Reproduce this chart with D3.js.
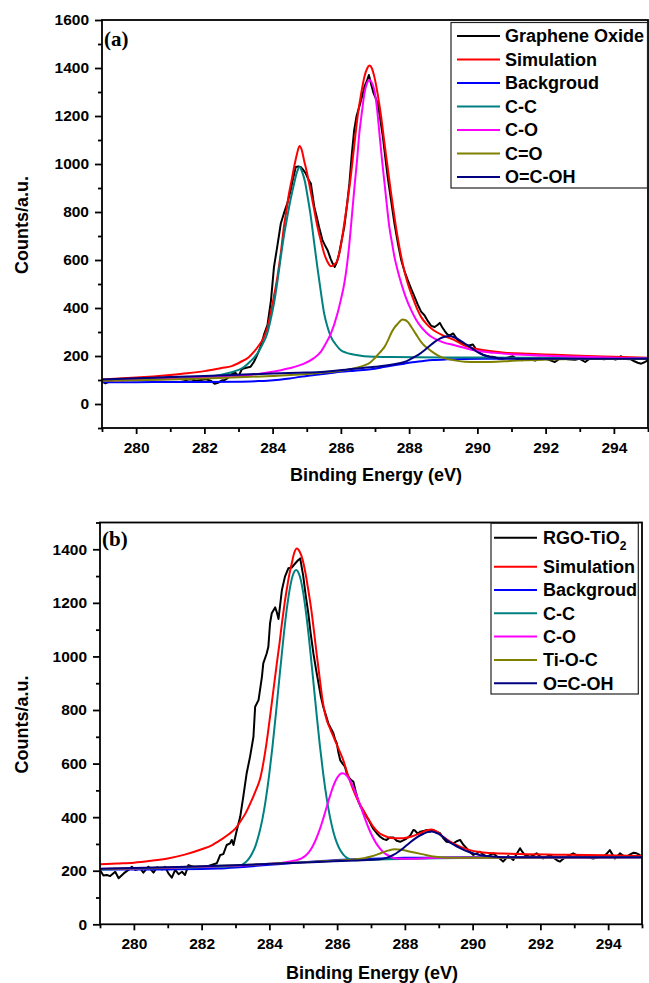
<!DOCTYPE html>
<html>
<head>
<meta charset="utf-8">
<script src="https://cdn.jsdelivr.net/npm/d3@7"></script>
<style>
  html, body { margin: 0; padding: 0; background: #fff; }
  svg { display: block; }
  text { font-family: "Liberation Sans", Arial, sans-serif; font-weight: bold; fill: #000; }
</style>
</head>
<body>
<svg id="chart" width="649" height="983"></svg>
<script>
// ---- shared axis values ----
const energyDomain = [279, 295];
const energyMajor = [280, 282, 284, 286, 288, 290, 292, 294];
const energyMinor = [279, 281, 283, 285, 287, 289, 291, 293, 295];

const goCountDomain = [-100, 1600];
const goCountMajor = [0, 200, 400, 600, 800, 1000, 1200, 1400, 1600];
const goCountMinor = [-100, 100, 300, 500, 700, 900, 1100, 1300, 1500];

const rgoCountDomain = [0, 1500];
const rgoCountMajor = [0, 200, 400, 600, 800, 1000, 1200, 1400];
const rgoCountMinor = [100, 300, 500, 700, 900, 1100, 1300, 1500];

const seriesColors = ["#000000", "#ff0000", "#0000ff", "#008080", "#ff00ff", "#808000", "#000080"];
const goNames = ["Graphene Oxide", "Simulation", "Backgroud", "C-C", "C-O", "C=O", "O=C-OH"];
const rgoNames = ["RGO-TiO2", "Simulation", "Backgroud", "C-C", "C-O", "Ti-O-C", "O=C-OH"];

// ---- (a) Graphene oxide C1s: [binding energy eV, counts] ----
const goSpectrum = [
  [279.0,96],[279.1,86],[279.2,92],[279.35,100],[279.5,104],[279.6,98],[279.8,106],[279.95,100],
  [280.1,104],[280.25,112],[280.4,106],[280.55,108],[280.7,103],[280.85,110],[281.0,108],[281.15,112],
  [281.3,104],[281.45,100],[281.6,103],[281.75,97],[281.9,100],[282.05,103],[282.2,96],[282.3,84],
  [282.4,88],[282.5,98],[282.6,100],[282.7,110],[282.8,124],[282.9,132],[283.0,115],[283.1,146],
  [283.2,150],[283.35,155],[283.45,175],[283.55,205],[283.65,240],[283.75,290],[283.85,330],[283.95,430],
  [284.04,571],[284.14,660],[284.24,752],[284.33,794],[284.43,836],[284.53,891],[284.6,940],[284.68,988],
  [284.75,990],[284.82,988],[284.9,975],[284.97,961],[285.05,935],[285.12,919],[285.17,870],[285.22,822],
  [285.3,775],[285.36,738],[285.46,683],[285.52,665],[285.61,641],[285.7,605],[285.76,585],[285.82,571],
  [285.88,590],[285.95,627],[286.02,680],[286.1,738],[286.18,830],[286.25,919],[286.32,1040],[286.39,1141],
  [286.46,1200],[286.54,1239],[286.62,1280],[286.69,1322],[286.76,1345],[286.82,1371],[286.88,1336],[286.96,1294],
  [287.02,1275],[287.08,1253],[287.15,1190],[287.23,1114],[287.3,1030],[287.37,947],[287.47,850],[287.57,752],
  [287.67,670],[287.77,599],[287.86,555],[287.96,516],[288.06,480],[288.16,446],[288.25,415],[288.35,385],
  [288.45,370],[288.55,345],[288.65,325],[288.75,321],[288.84,330],[288.9,338],[288.97,320],[289.04,305],
  [289.12,290],[289.19,286],[289.29,294],[289.36,280],[289.43,266],[289.53,255],[289.63,245],[289.75,244],
  [289.87,248],[289.97,226],[290.08,212],[290.2,203],[290.35,198],[290.5,196],[290.6,190],[290.75,189],
  [290.9,194],[291.04,199],[291.15,188],[291.3,182],[291.45,186],[291.55,185],[291.7,181],[291.82,193],
  [291.95,188],[292.1,184],[292.27,175],[292.4,188],[292.5,196],[292.65,186],[292.86,184],[293.0,188],
  [293.16,175],[293.3,190],[293.5,192],[293.7,186],[293.9,190],[294.05,185],[294.2,199],[294.35,188],
  [294.5,186],[294.6,178],[294.7,172],[294.8,168],[294.9,174],[295.0,182]
];
const goSimulation = [
  [279,103],[279.5,106],[280,110],[280.5,115],[281,121],[281.5,128],[282,137],[282.5,150],[282.8,158],
  [283.06,175],[283.3,195],[283.45,217],[283.6,245],[283.75,280],[283.85,320],[283.94,377],[284.04,450],
  [284.14,530],[284.24,630],[284.33,738],[284.41,810],[284.48,877],[284.56,935],[284.63,988],[284.71,1040],
  [284.79,1075],[284.86,1055],[284.92,1016],[285.0,968],[285.07,919],[285.15,860],[285.22,808],[285.29,755],
  [285.36,710],[285.44,665],[285.51,627],[285.6,595],[285.71,574],[285.8,580],[285.9,599],[286.0,660],
  [286.1,752],[286.2,850],[286.29,947],[286.39,1075],[286.49,1197],[286.59,1290],[286.69,1364],[286.77,1398],
  [286.84,1410],[286.91,1398],[286.98,1364],[287.08,1290],[287.18,1197],[287.27,1095],[287.37,988],[287.47,880],
  [287.57,780],[287.67,690],[287.77,613],[287.86,555],[287.96,502],[288.1,445],[288.25,391],[288.35,363],
  [288.5,335],[288.65,315],[288.8,300],[289.0,285],[289.33,266],[289.6,245],[289.9,231],[290.3,222],
  [290.8,214],[291.5,209],[292.3,205],[293,201],[294,197],[295,193]
];
const goBackground = [
  [279,91],[280,91],[281,92],[282,92],[283,93],[283.5,95],[283.85,97],[284.2,101],[284.5,106],[284.8,113],
  [285.1,119],[285.41,124],[285.7,129],[286.0,134],[286.4,139],[286.88,145],[287.3,155],[287.6,162],
  [287.86,168],[288.1,174],[288.35,178],[288.7,183],[289.1,186],[289.6,188],[290.5,189],[292,190],[295,190]
];
const goCC = [
  [279,100],[280,102],[281,106],[282,112],[282.5,122],[282.8,132],[283.0,142],[283.16,154],[283.35,178],
  [283.55,210],[283.7,248],[283.84,293],[283.94,350],[284.04,419],[284.14,510],[284.24,613],[284.33,700],
  [284.43,780],[284.53,855],[284.63,919],[284.71,965],[284.79,988],[284.87,965],[284.95,925],[285.03,860],
  [285.12,780],[285.21,680],[285.31,571],[285.41,470],[285.51,377],[285.61,320],[285.71,280],[285.85,248],
  [286.0,224],[286.15,214],[286.3,208],[286.5,203],[286.69,199],[287,197],[287.5,196],[289,194],[291,193],
  [293,192],[295,191]
];
const goCO = [
  [279,98],[280,100],[281,104],[282,109],[282.5,113],[283,117],[283.26,120],[283.8,130],[284.24,141],
  [284.6,153],[284.92,168],[285.2,190],[285.41,217],[285.55,250],[285.71,294],[285.9,377],[286.0,435],
  [286.1,502],[286.18,580],[286.25,669],[286.32,780],[286.39,891],[286.47,1010],[286.54,1127],[286.62,1220],
  [286.69,1294],[286.76,1335],[286.84,1350],[286.91,1338],[286.98,1308],[287.06,1230],[287.13,1127],
  [287.2,1025],[287.28,919],[287.35,825],[287.42,738],[287.5,670],[287.57,613],[287.67,553],[287.77,502],
  [287.9,445],[288.06,391],[288.2,352],[288.35,321],[288.5,298],[288.65,280],[289.0,257],[289.33,245],
  [289.9,224],[290.5,213],[291.2,206],[292,201],[293,197],[294,193],[295,190]
];
const goCdO = [
  [279,97],[280,99],[281,102],[282,106],[283,111],[284,117],[285,125],[285.5,131],[286.0,139],[286.2,143],
  [286.5,152],[286.69,161],[286.85,172],[286.98,189],[287.1,208],[287.2,224],[287.28,238],[287.38,265],
  [287.47,294],[287.57,318],[287.67,335],[287.74,346],[287.81,352],[287.88,350],[287.96,342],[288.06,322],
  [288.16,300],[288.25,280],[288.35,259],[288.45,243],[288.55,231],[288.7,215],[288.84,203],[289.0,192],
  [289.33,182],[289.63,176],[290,175],[290.3,175],[290.8,178],[291.3,182],[292,185],[293,187],[295,188]
];
const goCOOH = [
  [279,102],[280,107],[281,112],[282,117],[283,122],[284,127],[285,131],[285.41,133],[286.39,147],[287,155],
  [287.37,161],[287.6,167],[287.86,175],[288.0,184],[288.16,196],[288.3,208],[288.45,224],[288.6,242],
  [288.75,259],[288.9,272],[289.04,280],[289.19,283],[289.33,277],[289.48,266],[289.63,252],[289.78,238],
  [289.92,224],[290.06,212],[290.2,203],[290.35,197],[290.5,193],[290.8,190],[291.5,189],[293,189],[295,189]
];

// ---- (b) RGO-TiO2 C1s: [binding energy eV, counts] ----
const rgoSpectrum = [
  [279.0,203],[279.1,182],[279.2,184],[279.3,180],[279.45,196],[279.55,172],[279.7,190],[279.84,203],
  [279.94,215],[280.04,203],[280.19,209],[280.28,193],[280.43,215],[280.58,193],[280.68,213],[280.83,205],
  [280.92,215],[281.02,190],[281.12,174],[281.22,203],[281.32,187],[281.42,196],[281.51,184],[281.61,221],
  [281.76,215],[281.96,213],[282.2,218],[282.45,228],[282.55,259],[282.64,262],[282.74,296],[282.84,302],
  [282.89,315],[282.94,296],[283.04,352],[283.14,402],[283.23,477],[283.33,564],[283.43,626],[283.53,700],
  [283.58,812],[283.68,837],[283.78,924],[283.82,974],[283.92,1011],[283.97,1036],[284.02,1124],[284.07,1161],
  [284.17,1183],[284.22,1165],[284.27,1140],[284.37,1248],[284.46,1298],[284.56,1329],[284.66,1332],
  [284.76,1347],[284.84,1358],[284.91,1366],[285.0,1300],[285.07,1230],[285.15,1161],[285.22,1085],
  [285.3,1011],[285.38,950],[285.45,900],[285.52,850],[285.59,812],[285.67,780],[285.74,750],[285.82,730],
  [285.89,713],[285.94,690],[285.99,676],[286.04,640],[286.09,613],[286.16,600],[286.23,589],[286.28,565],
  [286.33,551],[286.4,540],[286.48,532],[286.55,495],[286.63,458],[286.7,438],[286.77,425],[286.85,405],
  [286.92,392],[287.0,372],[287.07,356],[287.17,340],[287.27,327],[287.37,318],[287.46,315],[287.56,324],
  [287.66,324],[287.76,312],[287.86,308],[287.95,313],[288.05,320],[288.15,330],[288.25,352],[288.3,350],
  [288.38,338],[288.45,346],[288.55,348],[288.64,352],[288.74,346],[288.84,352],[288.94,345],[289.04,340],
  [289.13,322],[289.23,308],[289.33,306],[289.43,302],[289.53,310],[289.63,315],[289.72,298],[289.82,284],
  [289.92,270],[290.02,259],[290.12,265],[290.22,271],[290.32,260],[290.41,252],[290.51,258],[290.61,265],
  [290.7,255],[290.8,246],[290.9,234],[291.05,255],[291.2,240],[291.3,262],[291.4,284],[291.47,270],
  [291.54,259],[291.69,252],[291.8,258],[291.89,265],[291.98,255],[292.08,246],[292.18,252],[292.28,259],
  [292.4,248],[292.5,238],[292.58,234],[292.68,245],[292.77,252],[292.87,258],[292.97,265],[293.1,256],
  [293.26,252],[293.4,250],[293.56,246],[293.7,250],[293.85,252],[293.95,262],[294.05,277],[294.12,262],
  [294.2,246],[294.28,255],[294.35,265],[294.45,256],[294.54,252],[294.64,260],[294.74,267],[294.82,266],
  [294.89,262],[295.0,252]
];
const rgoSimulation = [
  [279,224],[279.5,227],[280,230],[280.5,237],[281,246],[281.5,260],[282,280],[282.3,295],[282.55,314],
  [282.8,336],[283.0,358],[283.15,385],[283.3,415],[283.45,455],[283.6,500],[283.73,545],[283.82,601],
  [283.92,680],[284.02,775],[284.12,875],[284.22,974],[284.3,1050],[284.37,1123],[284.44,1190],[284.51,1248],
  [284.58,1300],[284.66,1347],[284.73,1385],[284.81,1403],[284.9,1390],[284.98,1362],[285.06,1315],
  [285.14,1255],[285.25,1163],[285.33,1080],[285.4,1005],[285.48,925],[285.55,855],[285.62,800],[285.7,760],
  [285.8,728],[285.9,698],[286.0,668],[286.1,638],[286.18,613],[286.3,565],[286.4,528],[286.48,501],
  [286.6,466],[286.7,442],[286.77,427],[286.9,398],[287.07,364],[287.25,340],[287.46,327],[287.7,321],
  [287.95,321],[288.2,328],[288.45,340],[288.65,351],[288.79,354],[288.95,345],[289.13,327],[289.35,308],
  [289.63,290],[289.92,277],[290.2,270],[290.41,267],[290.9,264],[291.4,262],[292.4,260],[293.36,259],
  [294.2,257],[295,255]
];
const rgoBackground = [
  [279,205],[280,205],[281,205],[282,206],[282.5,208],[283,212],[283.5,217],[284,222],[284.5,227],[285,232],
  [285.5,236],[286,240],[286.5,243],[287,245],[288,248],[289,249],[290,250],[292,250],[295,250]
];
const rgoCC = [
  [279,205],[281,210],[282,213],[282.79,216],[283.09,218],[283.29,231],[283.39,244],[283.49,264],[283.59,293],
  [283.69,335],[283.79,390],[283.89,463],[283.99,554],[284.09,661],[284.19,783],[284.29,912],[284.39,1038],
  [284.49,1153],[284.59,1243],[284.69,1302],[284.79,1323],[284.89,1303],[284.99,1245],[285.09,1155],
  [285.19,1042],[285.29,917],[285.39,789],[285.49,668],[285.59,562],[285.69,472],[285.79,400],[285.89,345],
  [285.99,305],[286.09,277],[286.19,259],[286.29,248],[286.49,239],[286.79,240],[287.5,243],[289,247],
  [291,249],[295,250]
];
const rgoCO = [
  [279,206],[282,215],[284,226],[284.5,232],[284.75,238],[284.95,246],[285.15,267],[285.25,285],[285.35,310],
  [285.45,341],[285.55,378],[285.65,420],[285.75,463],[285.85,503],[285.95,535],[286.05,556],[286.15,564],
  [286.25,559],[286.35,543],[286.45,520],[286.55,489],[286.65,455],[286.75,420],[286.85,385],[286.95,353],
  [287.05,326],[287.15,303],[287.25,285],[287.35,271],[287.55,254],[287.75,246],[288.2,245],[289,248],
  [291,249],[295,250]
];
const rgoTiOC = [
  [279,206],[281,212],[283,220],[285,232],[286,238],[286.5,242],[286.8,247],[287.0,253],[287.3,266],
  [287.5,275],[287.7,280],[287.9,278],[288.2,270],[288.5,262],[288.9,252],[289.4,248],[290,248],[292,249],
  [295,250]
];
const rgoCOOH = [
  [279,207],[281,213],[283,220],[285,231],[286.5,238],[287.27,243],[287.5,250],[287.66,259],[287.8,270],
  [287.95,284],[288.1,300],[288.25,315],[288.4,328],[288.55,338],[288.67,344],[288.79,346],[288.9,343],
  [289.0,338],[289.12,327],[289.23,315],[289.43,298],[289.63,284],[289.82,273],[290.02,265],[290.2,259],
  [290.41,255],[290.7,252],[291,250],[293,250],[295,250]
];

// ---- layout of the two panels ----
const panels = [
  {
    tag: "(a)",
    frame: { left: 102, right: 648, top: 20, bottom: 428 },
    countDomain: goCountDomain, countMajor: goCountMajor, countMinor: goCountMinor,
    names: goNames,
    series: [goSpectrum, goSimulation, goBackground, goCC, goCO, goCdO, goCOOH],
    legend: { left: 451, right: 647.5, top: 22.5, bottom: 188, firstRow: 36, secondRow: 59.5, step: 23.5,
              lineX0: 457, lineX1: 500, textX: 505 },
    tagBaseline: 45.5,
    titleBaseline: 481
  },
  {
    tag: "(b)",
    frame: { left: 100, right: 642, top: 522.5, bottom: 924.3 },
    countDomain: rgoCountDomain, countMajor: rgoCountMajor, countMinor: rgoCountMinor,
    names: rgoNames,
    series: [rgoSpectrum, rgoSimulation, rgoBackground, rgoCC, rgoCO, rgoTiOC, rgoCOOH],
    legend: { left: 491, right: 638.3, top: 523.3, bottom: 694, firstRow: 537.7, secondRow: 566.7, step: 23.3,
              lineX0: 494, lineX1: 537, textX: 543 },
    tagBaseline: 545.5,
    titleBaseline: 979
  }
];

const svg = d3.select("#chart");
const tickFont = "15.5px";
const titleFont = "18px";

panels.forEach((p, pi) => {
  const f = p.frame;
  const x = d3.scaleLinear().domain(energyDomain).range([f.left, f.right]);
  const y = d3.scaleLinear().domain(p.countDomain).range([f.bottom, f.top]);
  const g = svg.append("g");

  const clipId = "plot-clip-" + pi;
  g.append("clipPath").attr("id", clipId)
    .append("rect").attr("x", f.left).attr("y", f.top)
    .attr("width", f.right - f.left).attr("height", f.bottom - f.top);

  // spectral curves, drawn in legend order
  const line = d3.line().x(d => x(d[0])).y(d => y(d[1]));
  const smooth = d3.line().x(d => x(d[0])).y(d => y(d[1])).curve(d3.curveMonotoneX);
  const curves = g.append("g").attr("clip-path", `url(#${clipId})`);
  p.series.forEach((s, i) => {
    curves.append("path")
      .datum(s)
      .attr("d", i === 0 ? line : smooth)
      .attr("fill", "none")
      .attr("stroke", seriesColors[i])
      .attr("stroke-width", 2)
      .attr("stroke-linejoin", "round");
  });

  // frame
  g.append("rect")
    .attr("x", f.left).attr("y", f.top)
    .attr("width", f.right - f.left).attr("height", f.bottom - f.top)
    .attr("fill", "none").attr("stroke", "#000").attr("stroke-width", 1.8);

  // left axis: major ticks with labels, minor ticks without
  const yMajor = g.append("g").attr("transform", `translate(${f.left},0)`)
    .call(d3.axisLeft(y).tickValues(p.countMajor).tickSize(7).tickSizeOuter(0).tickPadding(6).tickFormat(d3.format("d")));
  const yMinor = g.append("g").attr("transform", `translate(${f.left},0)`)
    .call(d3.axisLeft(y).tickValues(p.countMinor).tickSize(4).tickSizeOuter(0).tickFormat(""));

  // bottom axis
  const xMajor = g.append("g").attr("transform", `translate(0,${f.bottom})`)
    .call(d3.axisBottom(x).tickValues(energyMajor).tickSize(6).tickSizeOuter(0).tickPadding(8).tickFormat(d3.format("d")));
  const xMinor = g.append("g").attr("transform", `translate(0,${f.bottom})`)
    .call(d3.axisBottom(x).tickValues(energyMinor).tickSize(4).tickSizeOuter(0).tickFormat(""));

  [yMajor, yMinor, xMajor, xMinor].forEach(a => {
    a.select(".domain").remove();
    a.selectAll(".tick line").attr("stroke", "#000").attr("stroke-width", 1.8);
    a.selectAll(".tick text")
      .attr("fill", "#000")
      .style("font-family", '"Liberation Sans", Arial, sans-serif')
      .style("font-weight", "bold")
      .style("font-size", tickFont);
  });

  // axis titles
  g.append("text")
    .attr("x", (f.left + f.right) / 2 + 1)
    .attr("y", p.titleBaseline)
    .attr("text-anchor", "middle")
    .style("font-size", titleFont)
    .text("Binding Energy (eV)");

  g.append("text")
    .attr("transform", `translate(28,${(f.top + f.bottom) / 2 + 1}) rotate(-90)`)
    .attr("text-anchor", "middle")
    .style("font-size", titleFont)
    .text("Counts/a.u.");

  // panel tag
  g.append("text")
    .attr("x", f.left + 2)
    .attr("y", p.tagBaseline)
    .style("font-family", '"Liberation Serif", "Times New Roman", serif')
    .style("font-size", "21px")
    .text(p.tag);

  // legend
  const L = p.legend;
  const lg = g.append("g");
  lg.append("rect")
    .attr("x", L.left).attr("y", L.top)
    .attr("width", L.right - L.left).attr("height", L.bottom - L.top)
    .attr("fill", "#fff").attr("stroke", "#222").attr("stroke-width", 1.2);

  p.names.forEach((name, i) => {
    const cy = i === 0 ? L.firstRow : L.secondRow + (i - 1) * L.step;
    lg.append("line")
      .attr("x1", L.lineX0).attr("x2", L.lineX1)
      .attr("y1", cy).attr("y2", cy)
      .attr("stroke", seriesColors[i]).attr("stroke-width", 2);
    const t = lg.append("text")
      .attr("x", L.textX).attr("y", cy + 6.3)
      .style("font-size", titleFont);
    const sub = name.match(/^(.*O)(2)$/);
    if (sub) {
      t.append("tspan").text(sub[1]);
      t.append("tspan").attr("dy", 6).style("font-size", "12px").text(sub[2]);
    } else {
      t.text(name);
    }
  });
});
</script>
</body>
</html>
